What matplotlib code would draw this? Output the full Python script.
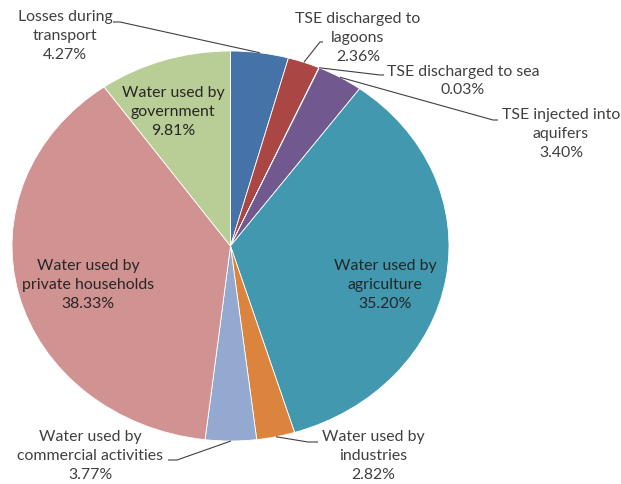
import numpy as np
import matplotlib
matplotlib.use("Agg")
from matplotlib import pyplot as plt

plt.rcParams['font.family'] = ['Lato', 'DejaVu Sans']

labels = ["Losses during\ntransport",
          "TSE discharged to\nlagoons",
          "TSE discharged to sea",
          "TSE injected into\naquifers",
          "Water used by\nagriculture",
          "Water used by\nindustries",
          "Water used by\ncommercial activities",
          "Water used by\nprivate households",
          "Water used by\ngovernment"]
valores = [4.27, 2.36, 0.03, 3.40, 35.20, 2.82, 3.77, 38.33, 9.81]
cores = ["#4572A7", "#AA4643", "#4572A7", "#71588F", "#4198AF",
         "#DB843D", "#93A9CF", "#D19392", "#B9CD96"]

W, H = 621, 484
cx, cy = 230.5, 246.0      # centro em pixels (y para baixo)
rx, ry = 218.5, 195.0      # pizza achatada

fig = plt.figure(figsize=(W / 100, H / 100), dpi=100)
ax = fig.add_axes([0, 0, 1, 1])
ax.axis('off')


def px(x, y):
    # pixel -> coordenadas do eixo
    return (x - cx) / rx, (cy - y) / ry


ax.pie(valores, colors=cores, startangle=90, counterclock=False, radius=1,
       center=(0, 0), frame=False,
       wedgeprops=dict(edgecolor="white", linewidth=0.6))
ax.set_xlim((0 - cx) / rx, (W - cx) / rx)
ax.set_ylim(-(H - cy) / ry, cy / ry)
ax.set_aspect('auto')

cor_txt = "#404040"
fs = 11.4
esp = 1.42

# angulo do meio de cada fatia
acum = np.cumsum([0] + valores[:-1])
meio = [90 - (a + v / 2) * 3.6 for a, v in zip(acum, valores)]


def borda(i):
    t = np.radians(meio[i])
    return np.cos(t), np.sin(t)


# rotulos de fora: (indice, posicao do texto, pontos da linha em pixels)
fora = [
    (0, (65, 36), [(113, 22), (120, 22)]),
    (1, (358, 38), [(323, 42), (320, 42)]),
    (2, (463, 81), [(384, 75), (380, 75)]),
    (3, (561, 134), [(498, 120), (493, 120)]),
    (5, (373, 456), [(318, 442), (308, 442)]),
    (6, (90, 456), [(168, 460), (177, 460)]),
]

for i, (tx, ty), pontos in fora:
    texto = labels[i] + "\n" + "%.2f%%" % valores[i]
    x, y = px(tx, ty)
    ax.text(x, y, texto, ha='center', va='center', fontsize=fs,
            color=cor_txt, linespacing=esp)
    xs = [px(p[0], p[1])[0] for p in pontos]
    ys = [px(p[0], p[1])[1] for p in pontos]
    bx, by = borda(i)
    xs.append(bx)
    ys.append(by)
    ax.plot(xs, ys, color="#404040", linewidth=0.8, solid_capstyle='butt')

# rotulos de dentro
dentro = [(4, (385, 285)), (7, (88, 285)), (8, (173, 112))]
for i, (tx, ty) in dentro:
    texto = labels[i] + "\n" + "%.2f%%" % valores[i]
    x, y = px(tx, ty)
    ax.text(x, y, texto, ha='center', va='center', fontsize=fs,
            color="#262626", linespacing=esp)

fig.savefig("out.png", dpi=100)
